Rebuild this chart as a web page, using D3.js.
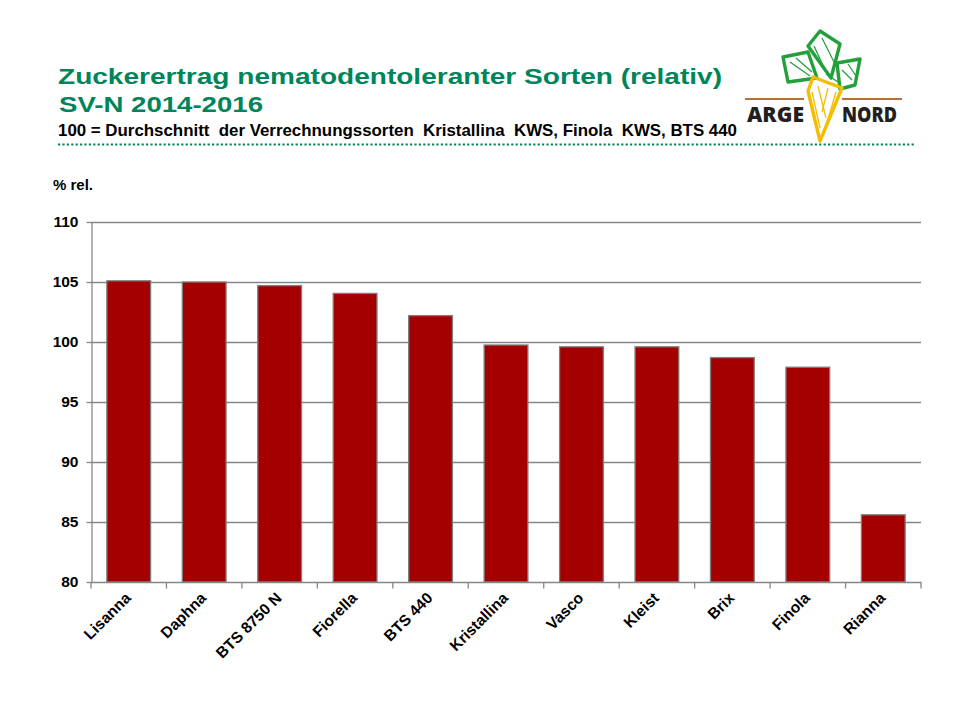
<!DOCTYPE html>
<html>
<head>
<meta charset="utf-8">
<script src="https://cdn.jsdelivr.net/npm/d3@7/dist/d3.min.js"></script>
<style>
  html, body { margin: 0; padding: 0; background: #fff; }
  svg { display: block; }
</style>
</head>
<body>
<script>
// ---- data ----
const categories = ["Lisanna", "Daphna", "BTS 8750 N", "Fiorella", "BTS 440", "Kristallina", "Vasco", "Kleist", "Brix", "Finola", "Rianna"];
const values = [105.1, 105.0, 104.7, 104.05, 102.2, 99.75, 99.6, 99.6, 98.7, 97.9, 85.6];
const yTicks = [80, 85, 90, 95, 100, 105, 110];
const titleLines = ["Zuckerertrag nematodentoleranter Sorten (relativ)", "SV-N 2014-2016"];
const subtitle = "100 = Durchschnitt  der Verrechnungssorten  Kristallina  KWS, Finola  KWS, BTS 440";
const yAxisLabel = "% rel.";

(function () {
const W = 960, H = 720;
const font = "'Liberation Sans', Arial, sans-serif";
const green = "#00845A";
const svg = d3.select("body").append("svg").attr("width", W).attr("height", H);

// ---- titles ----
svg.append("text").attr("x", 58).attr("y", 84).attr("font-family", font).attr("font-weight", "bold")
  .attr("font-size", 22.5).attr("fill", green).attr("textLength", 664).attr("lengthAdjust", "spacingAndGlyphs")
  .text(titleLines[0]);
svg.append("text").attr("x", 59).attr("y", 111.5).attr("font-family", font).attr("font-weight", "bold")
  .attr("font-size", 22.5).attr("fill", green).attr("textLength", 204).attr("lengthAdjust", "spacingAndGlyphs")
  .text(titleLines[1]);
svg.append("text").attr("x", 58).attr("y", 135.5).attr("font-family", font).attr("font-weight", "bold")
  .attr("font-size", 16.5).attr("fill", "#000").attr("textLength", 679).attr("lengthAdjust", "spacingAndGlyphs")
  .style("white-space", "pre")
  .text(subtitle);

// dotted separator
svg.append("line").attr("x1", 58).attr("x2", 916).attr("y1", 144.5).attr("y2", 144.5)
  .attr("stroke", green).attr("stroke-width", 2.2).attr("stroke-dasharray", "2.2 2.2");

// ---- logo ----
const logo = svg.append("g");
const lg = "#23A03C";
const closed = d3.line().curve(d3.curveLinearClosed);
const leaves = [
  [[820,31],[840,44],[831,78],[808,46]],
  [[783,57],[808,52],[817,78],[788,82]],
  [[837,63],[860,59],[855,85],[840,89]]
];
leaves.forEach(p => {
  logo.append("path").attr("d", closed(p)).attr("fill", "none").attr("stroke", lg)
    .attr("stroke-width", 3.4).attr("stroke-linejoin", "round");
});
[[[814,46],[826,72]],[[822,38],[834,62]],[[790,62],[810,76]],[[796,58],[812,72]],[[842,70],[852,80]],[[848,64],[856,76]],[[826,74],[838,82]]]
  .forEach(s => logo.append("line").attr("x1", s[0][0]).attr("y1", s[0][1]).attr("x2", s[1][0]).attr("y2", s[1][1])
    .attr("stroke", lg).attr("stroke-width", 1.3));
logo.append("line").attr("x1", 745).attr("x2", 804).attr("y1", 99).attr("y2", 99).attr("stroke", "#B5713A").attr("stroke-width", 2.2);
logo.append("line").attr("x1", 842).attr("x2", 902).attr("y1", 99).attr("y2", 99).attr("stroke", "#B5713A").attr("stroke-width", 2.2);
logo.append("path").attr("d", closed([[813,77],[842,88],[820,141],[808,91]])).attr("fill", "none")
  .attr("stroke", "#F4BE00").attr("stroke-width", 3.4).attr("stroke-linejoin", "round");
[[[812,92],[820,128]],[[818,86],[826,118]],[[828,88],[822,112]],[[836,92],[826,126]]]
  .forEach(s => logo.append("line").attr("x1", s[0][0]).attr("y1", s[0][1]).attr("x2", s[1][0]).attr("y2", s[1][1])
    .attr("stroke", "#F4BE00").attr("stroke-width", 1.3));
logo.append("text").attr("x", 747).attr("y", 122).attr("font-family", "'Open Sans', sans-serif").attr("font-weight", 800)
  .attr("font-size", 21).attr("fill", "#231F20").attr("textLength", 57).attr("lengthAdjust", "spacingAndGlyphs").text("ARGE");
logo.append("text").attr("x", 842).attr("y", 122).attr("font-family", "'Open Sans', sans-serif").attr("font-weight", 800)
  .attr("font-size", 21).attr("fill", "#231F20").attr("textLength", 55).attr("lengthAdjust", "spacingAndGlyphs").text("NORD");

// ---- chart ----
const pLeft = 91, pRight = 921, pTop = 222, pBottom = 582;
const x = d3.scaleBand().domain(categories).range([pLeft, pRight]).paddingInner(0.42).paddingOuter(0.21);
const y = d3.scaleLinear().domain([80, 110]).range([pBottom, pTop]);
const gridColor = "#868686";

svg.append("text").attr("x", 53).attr("y", 189.5).attr("font-family", font).attr("font-weight", "bold")
  .attr("font-size", 15).attr("fill", "#000").text(yAxisLabel);

svg.append("g").selectAll("line").data(yTicks.filter(t => t !== 80)).join("line")
  .attr("x1", pLeft).attr("x2", pRight).attr("y1", d => Math.round(y(d)) + 0.5).attr("y2", d => Math.round(y(d)) + 0.5)
  .attr("stroke", gridColor).attr("stroke-width", 1.3);

svg.append("g").selectAll("rect").data(categories).join("rect")
  .attr("x", d => x(d)).attr("width", x.bandwidth())
  .attr("y", (d, i) => y(values[i])).attr("height", (d, i) => y(80) - y(values[i]))
  .attr("fill", "#A50000").attr("stroke", "#7F7F7F").attr("stroke-width", 1.3);

const yAxis = svg.append("g").attr("transform", `translate(${pLeft + 0.5},0)`)
  .call(d3.axisLeft(y).tickValues(yTicks).tickSize(5).tickSizeOuter(0).tickPadding(8));
yAxis.select(".domain").attr("stroke", gridColor).attr("stroke-width", 1.3);
yAxis.selectAll(".tick line").attr("stroke", gridColor).attr("stroke-width", 1.3);
yAxis.selectAll(".tick text").attr("font-family", font).attr("font-weight", "bold").attr("font-size", 15.5).attr("fill", "#000");

const xAxisG = svg.append("g").attr("transform", `translate(0,${pBottom + 0.5})`);
xAxisG.append("line").attr("x1", pLeft).attr("x2", pRight + 0.5).attr("stroke", gridColor).attr("stroke-width", 1.3);
const step = x.step();
const boundaries = d3.range(categories.length + 1).map(i => x(categories[0]) - step * x.paddingInner() / 2 + i * step);
xAxisG.selectAll("line.tk").data(boundaries).join("line").attr("class", "tk")
  .attr("x1", d => d).attr("x2", d => d).attr("y1", 0).attr("y2", 6)
  .attr("stroke", gridColor).attr("stroke-width", 1.3);
svg.append("g").selectAll("text").data(categories).join("text")
  .attr("transform", d => `translate(${x(d) + x.bandwidth() / 2 + 3},${pBottom + 17}) rotate(-45)`)
  .attr("text-anchor", "end").attr("font-family", font).attr("font-weight", "bold").attr("font-size", 15.5)
  .attr("fill", "#000").text(d => d);
})();
</script>
</body>
</html>
